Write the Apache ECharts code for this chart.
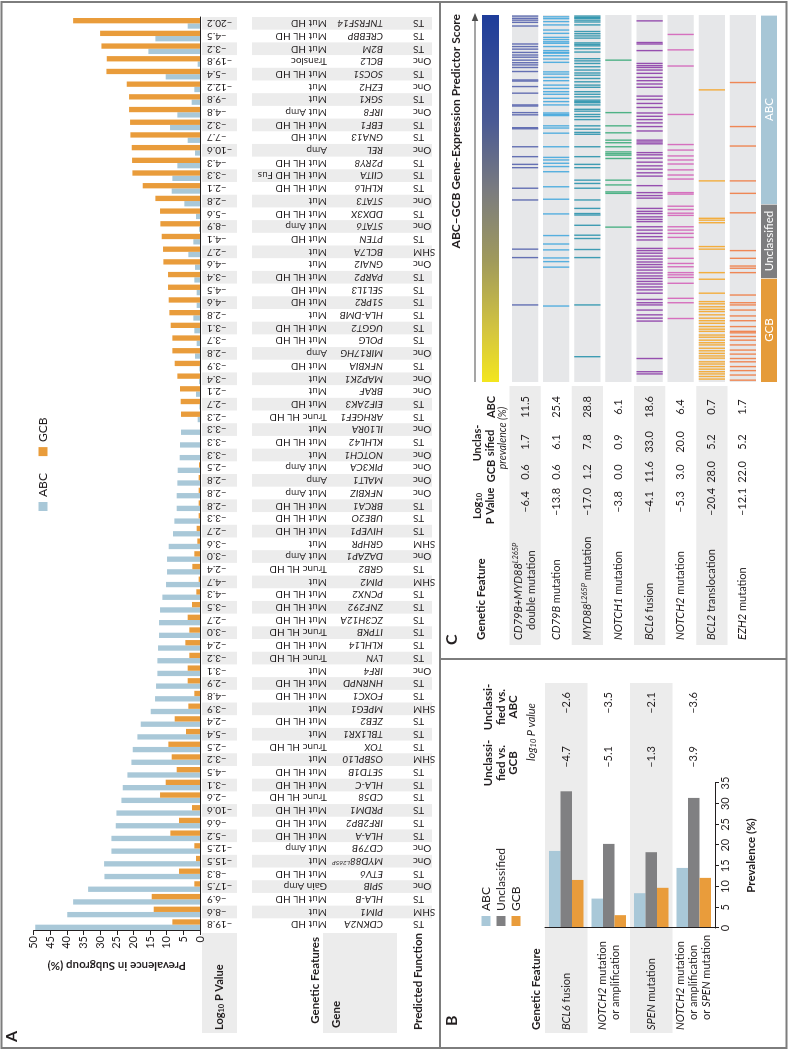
<!DOCTYPE html>
<html>
<head>
<meta charset="utf-8">
<script src="https://cdn.jsdelivr.net/npm/echarts@6/dist/echarts.min.js"></script>
<style>
  html, body { margin: 0; padding: 0; background: #fff; overflow: hidden; }
  /* the figure is laid out in landscape and turned a quarter turn to the left */
  #wrap { position: absolute; left: 0; top: 0; width: 1050px; height: 788px;
          transform-origin: 0 0; transform: translate(0, 1050px) rotate(-90deg); }
  #chart { width: 1050px; height: 788px; }
</style>
</head>
<body>
<div id="wrap"><div id="chart"></div></div>
<script>
// ---------- Panel A ----------
const genes = ['CDKN2A','PIM1','HLA-B','SPIB','ETV6','MYD88^L265P','CD79B','HLA-A','IRF2BP2','PRDM1',
  'CD58','HLA-C','SETD1B','OSBPL10','TOX','TBL1XR1','ZEB2','MPEG1','FOXC1','HNRNPD',
  'IRF4','LYN','KLHL14','ITPKB','ZC3H12A','ZNF292','PCNX2','PIM2','GRB2','DAZAP1',
  'GRHPR','HIVEP1','UBE2O','BRCA1','NFKBIZ','MALT1','PIK3CA','NOTCH1','KLHL42','IL10RA',
  'ARHGEF1','EIF2AK3','BRAF','MAP2K1','NFKBIA','MIR17HG','POLG','UGGT2','HLA-DMB','S1PR2',
  'SEL1L3','PARP2','GNAI2','BCL7A','PTEN','STAT6','DDX3X','STAT3','KLHL6','CIITA',
  'P2RY8','REL','GNA13','EBF1','IRF8','SGK1','EZH2','SOCS1','BCL2','B2M','CREBBP','TNFRSF14'];
const features = ['Mut HD','Mut','Mut HL HD','Gain Amp','Mut HL HD','Mut','Mut Amp','Mut HL HD','Mut HL HD','Mut HL HD',
  'Trunc HL HD','Mut HL HD','Mut HL HD','Mut','Trunc HL HD','Mut','Mut HL HD','Mut','Mut HL HD','Mut HL HD',
  'Mut','Trunc HL HD','Mut HL HD','Trunc HL HD','Mut HL HD','Mut HL HD','Mut HL HD','Mut','Trunc HL HD','Mut Amp',
  'Mut','Mut HL HD','Mut HL HD','Mut HL HD','Mut Amp','Amp','Mut Amp','Mut','Mut HL HD','Mut',
  'Trunc HL HD','Mut HD','Mut','Mut','Mut HD','Amp','Mut HL HD','Mut HL HD','Mut','Mut HD',
  'Mut HD','Mut HL HD','Mut','Mut','Mut HD','Mut Amp','Mut HL HD','Mut','Mut HL HD','Mut HL HD Fus',
  'Mut HL HD','Amp','Mut HD','Mut HL HD','Mut Amp','Mut','Mut','Mut HL HD','Transloc','Mut HD','Mut HL HD','Mut HD'];
const functions = ['TS','SHM','TS','Onc','TS','Onc','Onc','TS','TS','TS',
  'TS','TS','TS','SHM','TS','TS','TS','SHM','TS','TS',
  'Onc','TS','TS','TS','TS','TS','TS','SHM','TS','Onc',
  'SHM','TS','TS','TS','Onc','Onc','Onc','Onc','TS','Onc',
  'TS','TS','Onc','Onc','TS','Onc','TS','TS','TS','TS',
  'TS','TS','Onc','SHM','TS','Onc','TS','Onc','TS','TS',
  'TS','Onc','TS','TS','Onc','TS','Onc','TS','Onc','TS','TS','TS'];
const logP = [-19.8,-8.6,-6.9,-17.5,-8.3,-15.5,-12.5,-5.2,-6.6,-10.6,
  -2.6,-3.1,-4.5,-3.2,-2.5,-5.4,-2.4,-3.9,-4.8,-2.9,
  -3.1,-3.2,-2.4,-3.0,-2.7,-3.5,-4.3,-4.7,-2.4,-3.0,
  -3.6,-2.7,-3.3,-2.8,-2.8,-2.8,-2.5,-3.3,-3.3,-3.3,
  -2.3,-2.7,-2.1,-3.4,-3.9,-2.8,-3.7,-3.1,-2.8,-4.6,
  -4.5,-3.4,-4.6,-2.7,-4.1,-8.9,-5.6,-2.8,-2.1,-3.3,
  -4.3,-10.6,-7.7,-3.2,-4.8,-9.8,-12.2,-5.4,-19.8,-3.2,-4.5,-20.2];
const abcPrev = [49.5,39.9,38.1,33.6,28.7,28.8,26.6,26.6,25.3,25.1,
  23.6,23.2,21.8,20.6,20.2,18.8,17.8,14.8,13.5,13.2,
  12.8,12.8,12.6,12.3,12.3,12.0,11.3,10.2,9.9,9.9,
  9.4,8.1,7.7,7.0,7.0,6.8,6.7,6.1,6.0,5.7,
  0.7,0.2,1.2,0.3,0.2,1.5,1.0,1.7,2.0,1.0,
  1.0,1.7,1.5,3.5,2.0,0.3,1.2,4.7,8.5,8.3,
  6.8,1.5,3.7,9.0,6.8,2.5,1.7,10.3,0.7,15.5,13.4,3.7];
const gcbPrev = [8.3,13.9,14.5,1.7,6.3,1.2,1.7,8.9,6.3,2.4,
  12.0,10.3,7.0,8.5,9.5,4.2,7.6,3.5,1.7,3.7,
  3.7,3.2,4.4,3.2,3.7,2.4,1.1,0.4,2.3,1.7,
  0.8,1.0,0.4,0.4,0.4,0.4,0.3,0,0,0,
  5.7,5.8,6.0,6.8,7.6,8.3,8.3,8.8,9.2,9.4,
  9.6,9.6,11.0,11.1,11.5,11.9,12.0,13.4,17.2,20.3,
  20.4,20.5,20.9,21.0,21.3,21.3,22.0,28.1,28.0,29.6,30.0,38.1];

// ---------- Panel B ----------
const bFeatures = ['BCL6 fusion', 'NOTCH2 mutation or amplification', 'SPEN mutation',
  'NOTCH2 mutation or amplification or SPEN mutation'];
const bABC = [18.6, 7.1, 8.4, 14.5];
const bUncl = [33.0, 20.3, 18.3, 31.4];
const bGCB = [11.6, 3.1, 9.7, 12.1];
const bLogPvsGCB = [-4.7, -5.1, -1.3, -3.9];
const bLogPvsABC = [-2.6, -3.5, -2.1, -3.6];

// ---------- Panel C ----------
const cFeatures = ['CD79B+MYD88^L265P double mutation', 'CD79B mutation', 'MYD88^L265P mutation',
  'NOTCH1 mutation', 'BCL6 fusion', 'NOTCH2 mutation', 'BCL2 translocation', 'EZH2 mutation'];
const cLogP = [-6.4, -13.8, -17.0, -3.8, -4.1, -5.3, -20.4, -12.1];
const cGCB = [0.6, 0.6, 1.2, 0.0, 11.6, 3.0, 28.0, 22.0];
const cUncl = [1.7, 6.1, 7.8, 0.9, 33.0, 20.0, 5.2, 5.2];
const cABC = [11.5, 25.4, 28.8, 6.1, 18.6, 6.4, 0.7, 1.7];
const classNames = ['GCB', 'Unclassified', 'ABC'];
const classEdges = [0, 28.3, 48.5, 100];   // predictor-score rank (%), GCB end = 0
// case positions (rank %) for each feature row
const stripesDouble = [99.7,99.1,98.6,98.0,97.0,92.1,91.4,90.7,89.8,89.1,88.5,87.7,87.0,86.4,85.7,84.6,
  82.3,82.0,80.5,78.7,75.5,75.2,73.4,72.8,69.3,69.0,64.1,61.4,59.3,58.4,52.8,49.6,36.2,33.9,21.0];
const stripesCD79B = [99.5,99.0,98.2,97.3,95.9,95.0,93.9,93.3,92.7,92.3,91.4,90.3,89.8,89.6,88.9,88.0,87.1,
  84.5,83.9,83.0,82.1,80.9,80.0,79.1,78.4,77.3,76.4,75.5,73.3,72.9,72.6,69.8,69.2,67.8,64.1,61.2,60.5,
  59.6,58.7,57.3,53.2,49.8,45.8,39.9,37.6,36.0,33.8,32.8,31.3,20.7];
const stripesMYD88 = [99.7,99.3,99.1,98.6,98.1,97.3,95.5,94.9,94.3,93.7,92.4,92.0,91.6,90.8,89.9,88.1,87.5,
  86.8,85.9,85.0,84.2,83.6,82.7,81.8,80.9,80.3,79.1,78.4,77.7,76.8,76.4,76.1,75.5,74.3,73.8,72.9,72.3,
  71.5,69.8,68.9,68.0,67.5,64.1,61.4,59.3,58.4,55.0,54.1,52.8,49.6,47.3,45.9,45.5,42.7,40.0,39.1,36.1,
  33.9,21.0,6.9];
const stripesNOTCH1 = [87.7,73.4,69.8,67.9,65.9,65.2,64.1,62.7,62.2,61.8,60.9,55.0,53.7,51.8,51.4,42.2];
const stripesBCL6 = [98.4,92.5,92.1,90.3,86.8,86.2,85.7,85.0,84.1,83.0,82.1,81.2,80.3,77.9,77.0,75.9,74.8,
  73.3,72.4,71.5,70.6,69.6,68.4,65.9,65.4,64.9,62.5,61.9,61.0,59.9,58.9,58.0,57.0,56.1,53.5,51.6,50.8,
  50.1,47.3,46.5,45.9,45.0,44.3,43.7,42.3,41.4,40.5,39.6,38.7,36.4,35.8,35.1,34.3,33.5,32.7,32.0,31.3,
  30.5,29.7,28.9,28.2,27.4,26.7,25.9,25.1,24.2,22.5,21.6,21.0,19.6,18.3,17.4,16.6,6.4,2.8,2.2];
const stripesNOTCH2 = [94.7,90.5,86.1,72.9,64.7,63.2,61.6,60.5,59.4,57.8,56.4,55.3,51.6,51.2,47.9,47.0,46.0,
  45.4,42.3,41.4,40.5,39.4,36.4,33.7,32.3,31.4,29.8,29.2,28.5,26.9,22.8,21.6,17.3];
const stripesBCL2 = [79.6,54.8,44.6,44.1,43.4,36.9,36.2,29.8,28.0,24.2,21.9,21.3,20.5,19.8,19.2,18.3,17.4,
  16.7,16.0,15.1,14.4,13.8,12.8,12.2,11.4,10.7,10.1,9.2,8.5,7.8,7.1,6.5,5.5,4.9,4.2,3.5,2.8,2.2,1.5,0.8];
const stripesEZH2 = [81.6,69.6,64.3,54.8,51.4,46.1,35.8,33.7,31.6,31.0,29.8,23.7,21.6,21.0,19.6,18.0,16.7,
  15.1,13.8,13.4,12.4,11.4,10.1,8.7,7.6,6.4,5.5,4.2,3.1,1.9,0.5];
const stripeRows = [stripesDouble, stripesCD79B, stripesMYD88, stripesNOTCH1,
  stripesBCL6, stripesNOTCH2, stripesBCL2, stripesEZH2];

// ---------- styling ----------
const FONT = 'Lato';
const INK = '#231f20';
const C_ABC = '#a9c8d8';
const C_GCB = '#e99c3b';
const C_UNC = '#808082';
const BAND = '#ececec';
const stripeColors = ['#5563ad', '#45a9de', '#2b93ad', '#3dac7b', '#8d3ea8', '#d463b9', '#f4a62a', '#f07c45'];
const classColors = ['#e59b3a', '#7d7d7f', '#a7c6d6'];

const fmt = v => (v < 0 ? '\u2013' : '') + Math.abs(v).toFixed(1);
const isGene = w => /^[A-Z0-9+^-]+$/.test(w) && /[A-Z]{2}/.test(w);
const geneRich = (tok, st) => tok.split('+').map(part => {
  const bits = part.split('^');
  return '{' + st + '|' + bits[0] + '}' + (bits[1] ? '{sup|' + bits[1] + '}' : '');
}).join('{n|+}');
// long feature names wrap before "or" and after a combined gene token
const featureRich = s => {
  const words = s.split(' ');
  const lines = [[]];
  words.forEach((w, k) => {
    if (k > 0 && (w === 'or' || words[k - 1].includes('+'))) lines.push([]);
    lines[lines.length - 1].push(w);
  });
  return lines.map((ln, li) => ln.map((w, k) => {
    if (isGene(w)) return (k > 0 ? '{n| }' : '') + geneRich(w, 'i');
    return '{' + (li > 0 && k === 0 ? 'ind' : 'n') + '|' + (k > 0 ? ' ' : '') + w + '}';
  }).join('')).join('\n');
};
const txt = (size, extra) => Object.assign({ fontFamily: FONT, fontSize: size, color: INK, lineHeight: 13 }, extra || {});
const richBC = {
  n: txt(11), i: txt(11, { fontStyle: 'italic' }),
  ind: txt(11, { padding: [0, 0, 0, 10] }),
  sup: txt(7.5, { fontStyle: 'italic', verticalAlign: 'top', lineHeight: 9 })
};
const richA = {
  g: txt(10, { fontStyle: 'italic', lineHeight: 11 }), n: txt(10, { lineHeight: 11 }),
  sup: txt(6.5, { fontStyle: 'italic', verticalAlign: 'top', lineHeight: 7 })
};

// text rows under panel A, hung from the category axis
const aLabelAxis = (offset, align, formatter) => ({
  gridIndex: 0, type: 'category', data: genes, position: 'bottom', offset, z: 3,
  axisLine: { show: false }, axisTick: { show: false }, splitLine: { show: false },
  axisLabel: { interval: 0, rotate: 90, margin: 0, align, fontFamily: FONT, fontSize: 10,
    color: INK, formatter, rich: richA }
});
const bandAxis = (gridIndex, type, data, colors) => ({
  gridIndex, type, data, inverse: type === 'category' && gridIndex !== 1 && gridIndex !== 2,
  axisLine: { show: false }, axisTick: { show: false }, axisLabel: { show: false },
  splitLine: { show: false },
  splitArea: { show: true, interval: 0, areaStyle: { color: colors } }
});
const colAxis = (gridIndex, data, position, margin, formatter, align) => ({
  gridIndex, type: 'category', data, inverse: true, position, z: 3,
  axisLine: { show: false }, axisTick: { show: false }, splitLine: { show: false },
  axisLabel: { interval: 0, margin, align: align || 'center', fontFamily: FONT, fontSize: 11,
    color: INK, formatter, rich: richBC }
});
const hidden = (gridIndex, min, max) => ({ gridIndex, type: 'value', show: false, min, max });

const headerText = (x, y, text, opt) => ({
  type: 'text', x, y, z: 10,
  style: Object.assign({ text, fill: INK, fontFamily: FONT, fontSize: 11.5, fontWeight: 'bold',
    align: 'left', verticalAlign: 'middle', lineHeight: 12.5 }, opt || {})
});
const richHead = {
  b: { fontFamily: FONT, fontSize: 11, fontWeight: 'bold', fill: INK },
  s: { fontFamily: FONT, fontSize: 7.5, fontWeight: 'bold', fill: INK, verticalAlign: 'bottom' },
  it: { fontFamily: FONT, fontSize: 11, fontStyle: 'italic', fill: INK },
  its: { fontFamily: FONT, fontSize: 7.5, fontStyle: 'italic', fill: INK, verticalAlign: 'bottom' }
};

const option = {
  animation: false,
  textStyle: { fontFamily: FONT, color: INK },
  grid: [
    { left: 119, top: 33.5, width: 914, height: 166.5 },   // 0 A bars
    { left: 119, top: 202, width: 914, height: 35 },       // 1 A p-value band
    { left: 119, top: 252, width: 914, height: 180 },      // 2 A gene band
    { left: 122, top: 545, width: 145, height: 170 },      // 3 B bars
    { left: 17, top: 545, width: 350, height: 170 },       // 4 B row bands
    { left: 668, top: 509.5, width: 367, height: 249 },    // 5 C stripes
    { left: 405, top: 509.5, width: 259, height: 249 },    // 6 C row bands
    { left: 668, top: 761, width: 367, height: 16 }        // 7 C class bar
  ],
  legend: [
    { data: ['ABC', 'GCB'], left: 534, top: 32, icon: 'rect', itemWidth: 9, itemHeight: 9,
      itemGap: 17, textStyle: { fontFamily: FONT, fontSize: 12, color: INK } },
    { data: ['ABC', 'Unclassified', 'GCB'], orient: 'vertical', left: 119, top: 475, icon: 'rect',
      itemWidth: 10, itemHeight: 9, itemGap: 3, textStyle: { fontFamily: FONT, fontSize: 12, color: INK } }
  ],
  xAxis: [
    { gridIndex: 0, type: 'category', data: genes, axisLine: { lineStyle: { color: INK, width: 1 } },
      axisTick: { show: false }, axisLabel: { show: false } },                       // 0
    aLabelAxis(7, 'right', (v, i) => fmt(logP[i])),                                  // 1
    aLabelAxis(183, 'left', (v, i) => geneRich(genes[i], 'g')),                      // 2
    aLabelAxis(127, 'left', (v, i) => features[i]),                                  // 3
    aLabelAxis(213, 'right', (v, i) => functions[i]),                                // 4
    bandAxis(1, 'category', genes, ['rgba(255,255,255,0)', BAND]),                   // 5
    bandAxis(2, 'category', genes, ['rgba(255,255,255,0)', BAND]),                   // 6
    { gridIndex: 3, type: 'value', min: 0, max: 35, interval: 5,
      axisLine: { show: true, lineStyle: { color: INK } },
      axisTick: { show: true, length: 4, lineStyle: { color: INK } },
      axisLabel: { fontSize: 11, margin: 5, color: INK, fontFamily: FONT },
      splitLine: { show: false },
      name: 'Prevalence (%)', nameLocation: 'middle', nameGap: 30,
      nameTextStyle: { fontSize: 11.5, fontWeight: 'bold', fontFamily: FONT, color: INK } },     // 7
    hidden(4, 0, 1),                                                                  // 8
    hidden(5, 0, 100),                                                                // 9
    hidden(6, 0, 1),                                                                  // 10
    hidden(7, 0, 100)                                                                 // 11
  ],
  yAxis: [
    { gridIndex: 0, type: 'value', min: 0, max: 50, interval: 5,
      axisLine: { show: true, lineStyle: { color: INK } },
      axisTick: { show: true, length: 4, lineStyle: { color: INK } },
      axisLabel: { fontSize: 11, margin: 5, color: INK, fontFamily: FONT },
      splitLine: { show: false },
      name: 'Prevalence in Subgroup (%)', nameLocation: 'middle', nameRotate: 90, nameGap: 28,
      nameTextStyle: { fontSize: 11.5, fontWeight: 'bold', fontFamily: FONT, color: INK } },    // 0
    hidden(1, 0, 1),                                                                  // 1
    hidden(2, 0, 1),                                                                  // 2
    Object.assign(colAxis(3, bFeatures, 'left', 102, (v, i) => featureRich(bFeatures[i]), 'left'),
      { axisLine: { show: true, lineStyle: { color: INK } } }),                      // 3
    colAxis(3, bFeatures, 'right', 26, (v, i) => fmt(bLogPvsGCB[i])),                 // 4
    colAxis(3, bFeatures, 'right', 80, (v, i) => fmt(bLogPvsABC[i])),                 // 5
    bandAxis(4, 'category', bFeatures, [BAND, 'rgba(255,255,255,0)']),               // 6
    colAxis(5, cFeatures, 'left', 258, (v, i) => featureRich(cFeatures[i]), 'left'),  // 7
    colAxis(5, cFeatures, 'left', 120, (v, i) => fmt(cLogP[i])),                      // 8
    colAxis(5, cFeatures, 'left', 90, (v, i) => cGCB[i].toFixed(1)),                  // 9
    colAxis(5, cFeatures, 'left', 60, (v, i) => cUncl[i].toFixed(1)),                 // 10
    colAxis(5, cFeatures, 'left', 25, (v, i) => cABC[i].toFixed(1)),                  // 11
    bandAxis(6, 'category', cFeatures, [BAND, 'rgba(255,255,255,0)']),               // 12
    { gridIndex: 7, type: 'category', data: ['class'], show: false }                  // 13
  ],
  series: [
    { name: 'ABC', type: 'bar', xAxisIndex: 0, yAxisIndex: 0, data: abcPrev,
      itemStyle: { color: C_ABC }, barGap: '0%', barCategoryGap: '16%' },
    { name: 'GCB', type: 'bar', xAxisIndex: 0, yAxisIndex: 0, data: gcbPrev, itemStyle: { color: C_GCB } },
    { name: 'ABC', type: 'bar', xAxisIndex: 7, yAxisIndex: 3, data: bABC, itemStyle: { color: C_ABC },
      barWidth: 11.5, barGap: '0%' },
    { name: 'Unclassified', type: 'bar', xAxisIndex: 7, yAxisIndex: 3, data: bUncl,
      itemStyle: { color: C_UNC }, barWidth: 11.5 },
    { name: 'GCB', type: 'bar', xAxisIndex: 7, yAxisIndex: 3, data: bGCB, itemStyle: { color: C_GCB },
      barWidth: 11.5 },
    { type: 'custom', xAxisIndex: 9, yAxisIndex: 7, z: 1, silent: true,
      data: cFeatures.map((f, r) => [0, r]),
      renderItem: (params, api) => {
        const a = api.coord([0, api.value(1)]);
        const b = api.coord([100, api.value(1)]);
        const h = api.size([0, 1])[1] * 0.84;
        return { type: 'rect', shape: { x: a[0], y: a[1] - h / 2, width: b[0] - a[0], height: h },
          style: { fill: '#e6e7e9' } };
      } },
    { type: 'custom', xAxisIndex: 9, yAxisIndex: 7, z: 2, silent: true,
      data: stripeRows.flatMap((arr, r) => arr.map(v => [v, r])),
      renderItem: (params, api) => {
        const p = api.coord([api.value(0), api.value(1)]);
        const h = api.size([0, 1])[1] * 0.84;
        return { type: 'rect', shape: { x: p[0] - 0.7, y: p[1] - h / 2, width: 1.4, height: h },
          style: { fill: stripeColors[api.value(1)], opacity: 0.9 } };
      } },
    { type: 'custom', xAxisIndex: 11, yAxisIndex: 13, silent: true,
      encode: { x: [0, 1], y: 2 },
      data: classNames.map((n, k) => [classEdges[k], classEdges[k + 1], 0]),
      renderItem: (params, api) => {
        const a = api.coord([api.value(0), 0]);
        const b = api.coord([api.value(1), 0]);
        const h = api.size([0, 1])[1];
        const k = params.dataIndex;
        return { type: 'group', children: [
          { type: 'rect', shape: { x: a[0], y: a[1] - h / 2, width: b[0] - a[0] - 0.6, height: h },
            style: { fill: classColors[k] } },
          { type: 'text', x: (a[0] + b[0]) / 2, y: a[1],
            style: { text: classNames[k], fill: '#fff', fontFamily: FONT, fontSize: 11.5,
              align: 'center', verticalAlign: 'middle' } }
        ] };
      } }
  ],
  graphic: [
    { type: 'rect', z: 0, shape: { x: 2, y: 1.5, width: 1046, height: 785 },
      style: { fill: 'none', stroke: '#7d7d7d', lineWidth: 2 } },
    { type: 'line', shape: { x1: 2, y1: 440, x2: 1048, y2: 440 }, style: { stroke: '#7d7d7d', lineWidth: 2 } },
    { type: 'line', shape: { x1: 391, y1: 440, x2: 391, y2: 786 }, style: { stroke: '#7d7d7d', lineWidth: 2 } },
    headerText(8, 6, 'A', { fontSize: 16, verticalAlign: 'top' }),
    headerText(24, 446, 'B', { fontSize: 16, verticalAlign: 'top' }),
    headerText(405, 446, 'C', { fontSize: 16, verticalAlign: 'top' }),
    // panel A table headers
    { type: 'rect', shape: { x: 17, y: 202, width: 100, height: 35 }, style: { fill: BAND } },
    { type: 'rect', shape: { x: 17, y: 323, width: 100, height: 74 }, style: { fill: BAND } },
    headerText(20, 219.5, '{b|Log}{s|10}{b| P Value}', { rich: richHead }),
    headerText(113, 315, 'Genetic Features', { align: 'right' }),
    headerText(22, 336, 'Gene'),
    headerText(20, 418, 'Predicted Function'),
    // panel B headers
    headerText(20, 536, 'Genetic Feature'),
    headerText(287, 501, 'Unclassi-\nfied vs.\nGCB', { align: 'center' }),
    headerText(343, 501, 'Unclassi-\nfied vs.\nABC', { align: 'center' }),
    headerText(318, 531, '{it|log}{its|10}{it| P value}', { align: 'center', rich: richHead, fontWeight: 'normal' }),
    // panel C headers
    headerText(410, 481, 'Genetic Feature'),
    headerText(544, 484, '{b|Log}{s|10}\n{b|P Value}', { align: 'center', rich: richHead }),
    headerText(579, 491, 'GCB', { align: 'center', fontSize: 11 }),
    headerText(607, 484, 'Unclas-\nsified', { align: 'center', fontSize: 11 }),
    headerText(643, 491, 'ABC', { align: 'center', fontSize: 11 }),
    headerText(612, 503, 'prevalence (%)', { align: 'center', fontWeight: 'normal', fontStyle: 'italic', fontSize: 10.5 }),
    headerText(1036, 456, 'ABC\u2013GCB Gene-Expression Predictor Score', { align: 'right', fontSize: 12 }),
    { type: 'line', shape: { x1: 668, y1: 475, x2: 1030, y2: 475 }, style: { stroke: '#4d4d4d', lineWidth: 1.2 } },
    { type: 'polygon', shape: { points: [[1037, 475], [1029, 471.8], [1029, 478.2]] }, style: { fill: '#4d4d4d' } },
    { type: 'rect', shape: { x: 668, y: 482, width: 367, height: 17 },
      style: { fill: new echarts.graphic.LinearGradient(0, 0, 1, 0, [
        { offset: 0, color: '#f3e61e' }, { offset: 0.14, color: '#d4c53f' },
        { offset: 0.33, color: '#a09a5c' }, { offset: 0.52, color: '#7b7c7f' },
        { offset: 0.71, color: '#4a5a94' }, { offset: 1, color: '#1e3d9a' }]) } }
  ]
};

const chart = echarts.init(document.getElementById('chart'), null, { width: 1050, height: 788 });
chart.setOption(option);
</script>
</body>
</html>
